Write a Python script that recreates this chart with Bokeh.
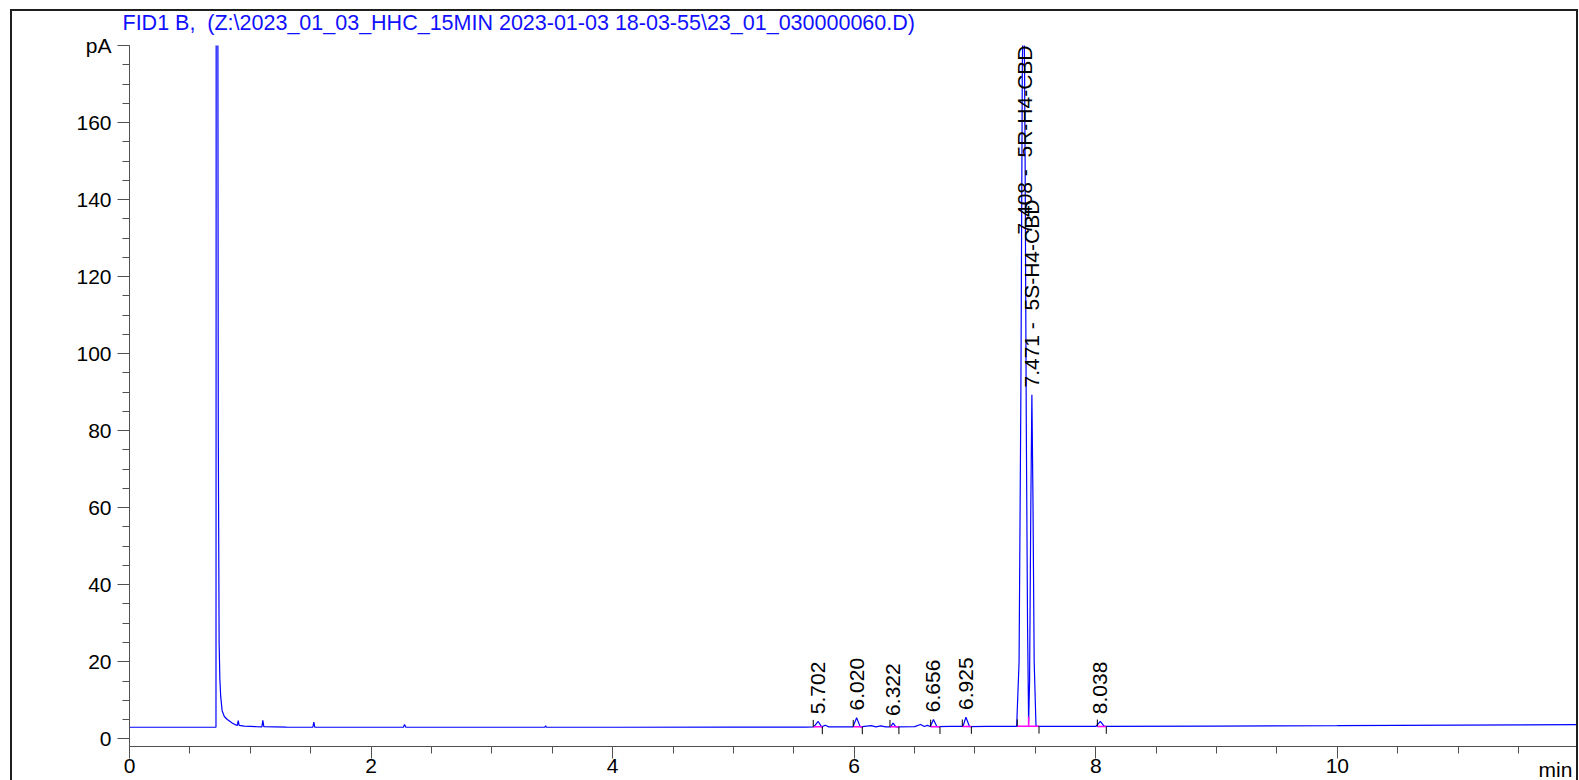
from bokeh.plotting import figure
from bokeh.models import FixedTicker, Range1d, LinearAxis
from bokeh.core.properties import value
from bokeh.embed import file_html
from bokeh.resources import INLINE
import math

# ---------------- data ----------------
title_text = "FID1 B,\u00a0 (Z:\\2023_01_03_HHC_15MIN 2023-01-03 18-03-55\\23_01_030000060.D)"

time_min = [0.00, 0.70, 0.712, 0.716, 0.720, 0.728, 0.735, 0.742, 0.748, 0.755, 0.767,
            0.785, 0.81, 0.85, 0.88, 0.893, 0.900, 0.908, 0.95, 1.05, 1.096, 1.104,
            1.112, 1.30, 1.518, 1.526, 1.534, 2.0, 2.268, 2.277, 2.288, 3.0, 3.438,
            3.445, 3.452, 4.0, 5.0, 5.60, 5.665, 5.702, 5.730, 5.76, 5.79, 5.99,
            6.020, 6.050, 6.14, 6.18, 6.22, 6.26, 6.30, 6.322, 6.345, 6.50, 6.55,
            6.58, 6.605, 6.63, 6.656, 6.685, 6.80, 6.90, 6.925, 6.955, 7.10, 7.20,
            7.345, 7.365, 7.38, 7.392, 7.405, 7.415, 7.425, 7.435, 7.444, 7.452,
            7.462, 7.471, 7.48, 7.49, 7.505, 7.55, 8.00, 8.038, 8.07, 9.0, 10.0,
            11.0, 12.0]
signal_pa = [3.00, 3.00, 3.05, 3.0, 450.0, 300.0, 80.0, 25.0, 15.6, 11.0, 7.3,
             5.8, 5.0, 4.1, 3.6, 3.5, 4.7, 3.5, 3.3, 3.15, 3.1, 4.8,
             3.15, 3.05, 3.0, 4.3, 3.05, 3.0, 3.0, 3.7, 3.0, 3.0, 3.0,
             3.35, 3.0, 3.0, 3.05, 3.05, 3.1, 4.5, 3.1, 3.5, 3.1, 3.1,
             5.45, 3.1, 3.4, 3.1, 3.35, 3.1, 3.1, 4.05, 3.1, 3.15, 3.7,
             3.2, 3.5, 3.2, 5.0, 3.15, 3.2, 3.2, 5.6, 3.15, 3.2, 3.2,
             3.25, 20.0, 90.0, 175.0, 200.0, 150.0, 80.0, 30.0, 4.0, 15.0,
             60.0, 89.3, 62.0, 20.0, 3.3, 3.2, 3.2, 4.5, 3.2, 3.3, 3.4,
             3.55, 3.7]

peak_rt = [5.702, 6.020, 6.322, 6.656, 6.925, 7.408, 7.471, 8.038]
peak_height = [4.5, 5.45, 4.05, 5.0, 5.6, 200.0, 89.3, 4.5]
peak_name = ["", "", "", "", "", "5R-H4-CBD", "5S-H4-CBD", ""]
peak_start = [5.661, 5.992, 6.296, 6.633, 6.895, 7.350, 7.444, 8.013]
peak_end = [5.736, 6.067, 6.370, 6.710, 6.970, 7.444, 7.530, 8.087]
peak_base = [3.1, 3.1, 3.1, 3.15, 3.2, 3.25, 3.25, 3.2]

x_major_ticks = [0, 2, 4, 6, 8, 10]
x_minor_ticks = [i * 0.5 for i in range(0, 24)]
y_major_ticks = [0, 20, 40, 60, 80, 100, 120, 140, 160, 180]
y_minor_ticks = [i * 5 for i in range(0, 37)]
y_label_overrides = {180: ""}
x_unit = "min"
y_unit = "pA"

FONT = "Liberation Sans"
FS = "21px"
FRAME = "#1e1e1e"

p = figure(width=1564, height=778, x_range=Range1d(0, 11.98), y_range=Range1d(-2, 180),
           output_backend="svg", toolbar_location=None,
           min_border_left=117, min_border_right=0, min_border_top=43, min_border_bottom=34)
p.margin = (2, 0, 0, 12)
# outer frame: top rule drawn inside (under a transparent border), sides outside
p.styles = {"box-shadow": f"inset 0 7px 0 0 #ffffff, inset 0 9px 0 0 {FRAME}, "
                          f"-2px 7px 0 0 {FRAME}, 2px 7px 0 0 {FRAME}",
            "background-color": "#ffffff"}
p.outline_line_color = None
p.xgrid.visible = False
p.ygrid.visible = False
p.background_fill_color = "white"
p.border_fill_color = None

# title
p.title.text = title_text
p.title.align = "left"
p.title.offset = -7
p.title.vertical_align = "top"
p.title.standoff = 17
p.title.text_color = "#1010ff"
p.title.text_font = FONT
p.title.text_font_size = "21.5px"
p.title.text_font_style = "normal"

axis_col = "#505050"
for ax in (p.xaxis[0], p.yaxis[0]):
    ax.axis_line_color = axis_col
    ax.major_tick_line_color = axis_col
    ax.minor_tick_line_color = axis_col
    ax.major_tick_in = 0
    ax.minor_tick_in = 0
    ax.major_label_text_font = FONT
    ax.major_label_text_font_size = FS
    ax.major_label_text_color = "black"
    ax.axis_label_text_font = FONT
    ax.axis_label_text_font_size = FS
    ax.axis_label_text_font_style = "normal"
    ax.axis_label_text_color = "black"

p.xaxis.ticker = FixedTicker(ticks=x_major_ticks, minor_ticks=x_minor_ticks)
p.xaxis.major_tick_out = 12
p.xaxis.minor_tick_out = 7
p.xaxis.major_label_standoff = 0

p.yaxis.ticker = FixedTicker(ticks=y_major_ticks, minor_ticks=y_minor_ticks)
p.yaxis.major_tick_out = 12
p.yaxis.minor_tick_out = 7
p.yaxis.major_label_standoff = 6
p.yaxis.major_label_overrides = y_label_overrides
p.yaxis.axis_label = y_unit
p.yaxis.axis_label_orientation = "horizontal"
p.yaxis.axis_label_align = "end"
p.yaxis.axis_label_text_baseline = "top"
p.yaxis.axis_label_standoff = -38

# x unit ("min") carried by a bare right-hand axis, right-aligned to the frame end
unit_axis = LinearAxis(axis_label="\n" + x_unit, ticker=FixedTicker(ticks=[]),
                       axis_line_color=None, major_tick_line_color=None,
                       minor_tick_line_color=None, major_tick_out=0, minor_tick_out=0,
                       major_label_standoff=0, major_label_text_font_size="0px",
                       axis_label_orientation="horizontal", axis_label_align="start",
                       axis_label_text_baseline="top", axis_label_standoff=-38,
                       axis_label_text_font=FONT, axis_label_text_font_size=FS,
                       axis_label_text_font_style="normal", axis_label_text_color="black",
                       axis_label_text_line_height=2.0)
p.add_layout(unit_axis, "right")

# chromatogram trace
p.line(time_min, signal_pa, line_color="#0000ff", line_width=1.2)

# integration baselines (magenta), start/end ticks (black), drop lines
p.segment(x0=peak_start, y0=peak_base, x1=peak_end, y1=peak_base,
          line_color="#ff00ff", line_width=1.5)
tick_up = 1.8
tick_dn = 1.9
su_x, su_y0, su_y1, dl_x, dl_y0, dl_y1 = [], [], [], [], [], []
for i, s in enumerate(peak_start):
    if i > 0 and abs(peak_end[i - 1] - s) < 1e-6:
        dl_x.append(s); dl_y0.append(peak_base[i]); dl_y1.append(peak_base[i] + 2.5)
    else:
        su_x.append(s); su_y0.append(peak_base[i]); su_y1.append(peak_base[i] + tick_up)
ed_x, ed_y0, ed_y1 = [], [], []
for i, e in enumerate(peak_end):
    if i < len(peak_start) - 1 and abs(peak_start[i + 1] - e) < 1e-6:
        continue
    ed_x.append(e); ed_y0.append(peak_base[i]); ed_y1.append(peak_base[i] - tick_dn)
p.segment(x0=su_x, y0=su_y0, x1=su_x, y1=su_y1, line_color="black", line_width=1)
p.segment(x0=ed_x, y0=ed_y0, x1=ed_x, y1=ed_y1, line_color="black", line_width=1)
p.segment(x0=dl_x, y0=dl_y0, x1=dl_x, y1=dl_y1, line_color="#ff00ff", line_width=1.5)

# peak labels
y_top = 180
lab_gap = 1.9
low_x, low_y, low_t, top_x, top_t = [], [], [], [], []
for rt, h, nm in zip(peak_rt, peak_height, peak_name):
    txt = f"{rt:.3f}" + (f" -\u00a0 {nm}" if nm else "")
    if h + lab_gap + 50 > y_top:
        top_x.append(rt); top_t.append(txt)
    else:
        low_x.append(rt); low_y.append(h + lab_gap); low_t.append(txt)
p.text(x=low_x, y=low_y, text=low_t, angle=math.pi / 2, text_align="left",
       text_baseline="middle", text_font=value(FONT), text_font_size=FS, text_color="black")
p.text(x=top_x, y=[y_top] * len(top_x), text=top_t, angle=math.pi / 2, text_align="right",
       text_baseline="middle", text_font=value(FONT), text_font_size=FS, text_color="black")

open("out.html", "w").write(file_html(p, INLINE))
